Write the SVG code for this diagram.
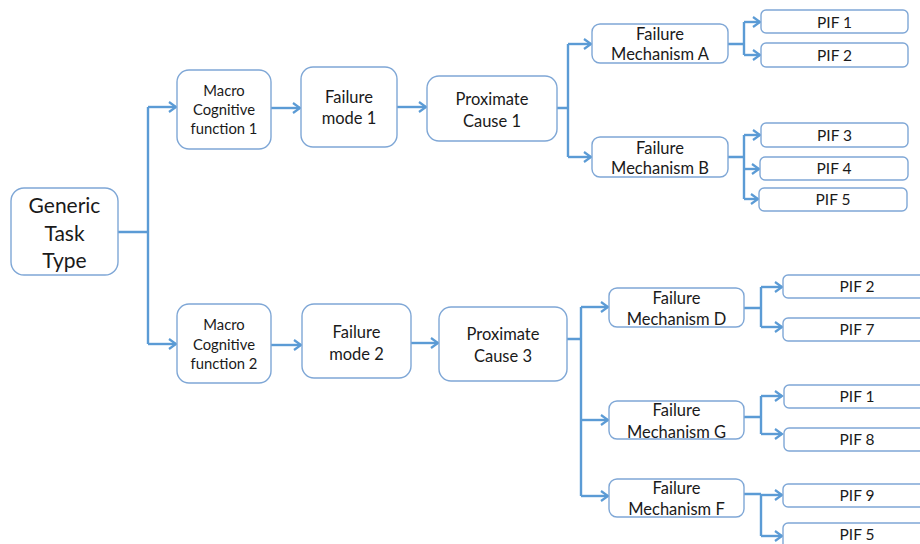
<svg xmlns="http://www.w3.org/2000/svg" width="920" height="544" viewBox="0 0 920 544">
  <style>
    .box { fill: #ffffff; stroke: #7fa7d6; stroke-width: 1.4; }
    .lbl { font-family: Lato, "Liberation Sans", sans-serif; fill: #1a1a1a; text-anchor: middle; }
    .big { font-size: 21px; }
    .sm { font-size: 14.8px; }
    .md { font-size: 16.5px; }
    .pif { font-size: 15.5px; }
    .wire { fill: none; stroke: #5b9bd5; stroke-width: 2.4; }
    .arr { fill: none; stroke: #5b9bd5; stroke-width: 2.4; marker-end: url(#head); }
  </style>
  <defs>
    <marker id="head" markerUnits="userSpaceOnUse" markerWidth="14" markerHeight="14" refX="10" refY="6" orient="auto">
      <path d="M3,1 L10,6 L3,11" fill="none" stroke="#5b9bd5" stroke-width="2.2"/>
    </marker>
  </defs>
  <rect width="920" height="544" fill="#ffffff"/>

  <g id="connectors">
    <!-- task type to macro cognitive functions -->
    <path class="wire" d="M118,232 H148 M148,107 V344"/>
    <path class="arr" d="M148,107 H176"/>
    <path class="arr" d="M148,344 H176"/>
    <!-- upper chain -->
    <path class="arr" d="M271,108 H300"/>
    <path class="arr" d="M397,107 H426"/>
    <path class="wire" d="M557,108 H568 M568,44 V157"/>
    <path class="arr" d="M568,44 H591"/>
    <path class="arr" d="M568,157 H591"/>
    <path class="wire" d="M728,44 H744 M744,22 V55"/>
    <path class="arr" d="M744,22 H760"/>
    <path class="arr" d="M744,55 H760"/>
    <path class="wire" d="M728,157 H744 M744,135 V199"/>
    <path class="arr" d="M744,135 H760"/>
    <path class="arr" d="M744,169 H759"/>
    <path class="arr" d="M744,199 H758"/>
    <!-- lower chain -->
    <path class="arr" d="M271,345 H301"/>
    <path class="arr" d="M411,343 H438"/>
    <path class="wire" d="M567,339 H581 M581,307 V496"/>
    <path class="arr" d="M581,307 H608"/>
    <path class="arr" d="M581,420 H608"/>
    <path class="arr" d="M581,496 H608"/>
    <path class="wire" d="M744,308 H761 M761,287 V327"/>
    <path class="arr" d="M761,287 H782"/>
    <path class="arr" d="M761,327 H782"/>
    <path class="wire" d="M744,417 H761 M761,396 V434"/>
    <path class="arr" d="M761,396 H782"/>
    <path class="arr" d="M761,434 H782"/>
    <path class="wire" d="M744,494 H761 M761,494 V536"/>
    <path class="arr" d="M761,495 H782"/>
    <path class="arr" d="M761,536 H782"/>
  </g>

  <g id="generic-task-type">
    <rect class="box" x="11" y="188" width="107" height="87" rx="13"/>
    <text class="lbl big" x="64.5" y="212.5">Generic</text>
    <text class="lbl big" x="64.5" y="240.5">Task</text>
    <text class="lbl big" x="64.5" y="267.5">Type</text>
  </g>

  <g id="macro-cognitive-1">
    <rect class="box" x="177" y="70" width="94" height="79" rx="12"/>
    <text class="lbl sm" x="224" y="96">Macro</text>
    <text class="lbl sm" x="224" y="115">Cognitive</text>
    <text class="lbl sm" x="224" y="134">function 1</text>
  </g>

  <g id="failure-mode-1">
    <rect class="box" x="301" y="67" width="96" height="80" rx="12"/>
    <text class="lbl md" x="349" y="103">Failure</text>
    <text class="lbl md" x="349" y="124">mode 1</text>
  </g>

  <g id="proximate-cause-1">
    <rect class="box" x="427" y="76" width="130" height="65" rx="12"/>
    <text class="lbl md" x="492" y="105">Proximate</text>
    <text class="lbl md" x="492" y="127">Cause 1</text>
  </g>

  <g id="mechanism-a">
    <rect class="box" x="592" y="24" width="136" height="39" rx="8"/>
    <text class="lbl md" x="660" y="40">Failure</text>
    <text class="lbl md" x="660" y="60">Mechanism A</text>
  </g>

  <g id="mechanism-b">
    <rect class="box" x="592" y="137" width="136" height="40" rx="8"/>
    <text class="lbl md" x="660" y="154">Failure</text>
    <text class="lbl md" x="660" y="174">Mechanism B</text>
  </g>

  <g id="pif-a1">
    <rect class="box" x="761" y="10" width="147" height="23" rx="5"/>
    <text class="lbl pif" x="834.5" y="28">PIF 1</text>
  </g>
  <g id="pif-a2">
    <rect class="box" x="761" y="43" width="147" height="24" rx="5"/>
    <text class="lbl pif" x="834.5" y="61">PIF 2</text>
  </g>
  <g id="pif-b3">
    <rect class="box" x="761" y="123" width="147" height="24" rx="5"/>
    <text class="lbl pif" x="834.5" y="141">PIF 3</text>
  </g>
  <g id="pif-b4">
    <rect class="box" x="760" y="157" width="148" height="23" rx="5"/>
    <text class="lbl pif" x="834" y="174">PIF 4</text>
  </g>
  <g id="pif-b5">
    <rect class="box" x="759" y="188" width="148" height="23" rx="5"/>
    <text class="lbl pif" x="833" y="205">PIF 5</text>
  </g>

  <g id="macro-cognitive-2">
    <rect class="box" x="177" y="304" width="94" height="79" rx="12"/>
    <text class="lbl sm" x="224" y="330">Macro</text>
    <text class="lbl sm" x="224" y="350">Cognitive</text>
    <text class="lbl sm" x="224" y="369">function 2</text>
  </g>

  <g id="failure-mode-2">
    <rect class="box" x="302" y="304" width="109" height="74" rx="12"/>
    <text class="lbl md" x="356.5" y="338">Failure</text>
    <text class="lbl md" x="356.5" y="360">mode 2</text>
  </g>

  <g id="proximate-cause-3">
    <rect class="box" x="439" y="307" width="128" height="74" rx="12"/>
    <text class="lbl md" x="503" y="340">Proximate</text>
    <text class="lbl md" x="503" y="362">Cause 3</text>
  </g>

  <g id="mechanism-d">
    <rect class="box" x="609" y="288" width="135" height="39" rx="8"/>
    <text class="lbl md" x="676.5" y="304">Failure</text>
    <text class="lbl md" x="676.5" y="325">Mechanism D</text>
  </g>

  <g id="mechanism-g">
    <rect class="box" x="609" y="401" width="135" height="38" rx="8"/>
    <text class="lbl md" x="676.5" y="416">Failure</text>
    <text class="lbl md" x="676.5" y="438">Mechanism G</text>
  </g>

  <g id="mechanism-f">
    <rect class="box" x="609" y="479" width="135" height="38" rx="8"/>
    <text class="lbl md" x="676.5" y="494">Failure</text>
    <text class="lbl md" x="676.5" y="515">Mechanism F</text>
  </g>

  <g id="pif-d2">
    <rect class="box" x="783" y="275" width="150" height="23" rx="5"/>
    <text class="lbl pif" x="857" y="292">PIF 2</text>
  </g>
  <g id="pif-d7">
    <rect class="box" x="783" y="318" width="150" height="23" rx="5"/>
    <text class="lbl pif" x="857" y="335">PIF 7</text>
  </g>
  <g id="pif-g1">
    <rect class="box" x="784" y="385" width="150" height="23" rx="5"/>
    <text class="lbl pif" x="857" y="402">PIF 1</text>
  </g>
  <g id="pif-g8">
    <rect class="box" x="784" y="428" width="150" height="23" rx="5"/>
    <text class="lbl pif" x="857" y="445">PIF 8</text>
  </g>
  <g id="pif-f9">
    <rect class="box" x="783" y="484" width="150" height="23" rx="5"/>
    <text class="lbl pif" x="857" y="501">PIF 9</text>
  </g>
  <g id="pif-f5">
    <rect class="box" x="783" y="523" width="150" height="30" rx="5"/>
    <text class="lbl pif" x="857" y="540">PIF 5</text>
  </g>
</svg>
